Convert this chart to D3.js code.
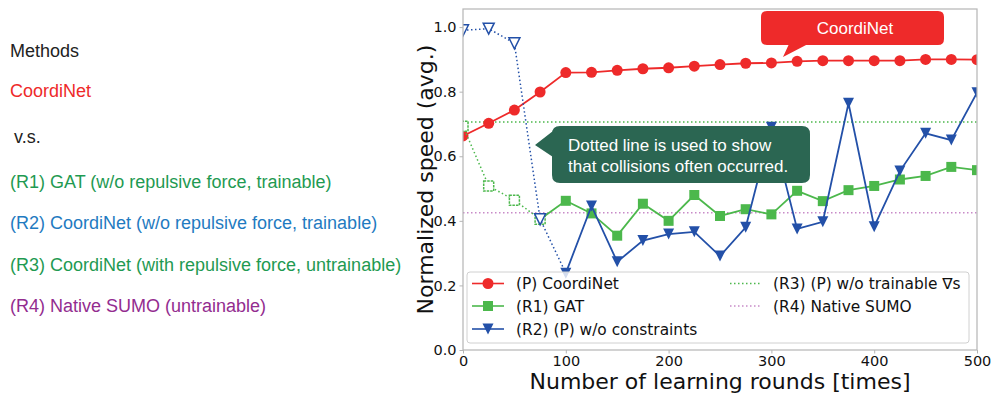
<!DOCTYPE html>
<html><head><meta charset="utf-8">
<script src="https://cdn.jsdelivr.net/npm/d3@7/dist/d3.min.js"></script>
<style>body{margin:0;background:#fff}svg{display:block}</style>
</head><body>
<svg id="c" width="993" height="394"></svg>
<script>
// ---- data ----
const rounds = [0,25,50,75,100,125,150,175,200,225,250,275,300,325,350,375,400,425,450,475,500];
const coordinet = [0.663,0.702,0.743,0.799,0.859,0.860,0.866,0.871,0.874,0.879,0.884,0.888,0.889,0.894,0.896,0.896,0.896,0.896,0.900,0.900,0.899];
const gat = [0.693,0.508,0.464,0.405,0.462,0.423,0.354,0.453,0.400,0.480,0.415,0.436,0.420,0.493,0.461,0.495,0.508,0.528,0.539,0.567,0.557];
const noConstraints = [0.990,0.995,0.950,0.405,0.238,0.446,0.273,0.339,0.359,0.366,0.291,0.380,0.690,0.375,0.397,0.764,0.382,0.554,0.671,0.650,0.797];
const gatCollisionLastIndex = 3;        // dotted (collisions) up to round 75
const noConstraintsCollisionLastIndex = 4; // dotted up to round 100
const r3Value = 0.706;
const r4Value = 0.425;
const yTicks = [0.0,0.2,0.4,0.6,0.8,1.0];
const xTicks = [0,100,200,300,400,500];
const legendLabels = ["(P) CoordiNet","(R1) GAT","(R2) (P) w/o constraints","(R3) (P) w/o trainable ∇s","(R4) Native SUMO"];
const methodLines = ["Methods","CoordiNet","v.s.","(R1) GAT (w/o repulsive force, trainable)","(R2) CoordiNet (w/o repulsive force, trainable)","(R3) CoordiNet (with repulsive force, untrainable)","(R4) Native SUMO (untrainable)"];
const xLabel = "Number of learning rounds [times]";
const yLabel = "Normalized speed (avg.)";
const calloutRed = "CoordiNet";
const calloutGreen = ["Dotted line is used to show","that collisions often occurred."];

// ---- styles ----
const RED="#ee2a2a", GREEN="#4cb84c", BLUE="#2350a8", PURPLE="#c88ac8";
const DOT="1.5,2.5";
const svg = d3.select("#c");
const L=463,R=977,T=9,B=350;
const x = d3.scaleLinear().domain([0,500]).range([L,R]);
const y = d3.scaleLinear().domain([0,1.056]).range([B,T]);

// left method list
const mColors = ["#222",RED,"#222","#1f9a52","#1f7bc1","#1f9a52","#932c8f"];
const mY = [57,97,143,188,229,271,312];
const mX = [10,10,14,10,10,10,10];
svg.append("g").selectAll("text").data(methodLines).join("text")
  .attr("x",(d,i)=>mX[i]).attr("y",(d,i)=>mY[i])
  .attr("font-family","Liberation Sans, Arial, sans-serif").attr("font-size",18)
  .attr("fill",(d,i)=>mColors[i]).text(d=>d);

svg.append("defs").append("clipPath").attr("id","clip")
  .append("rect").attr("x",L).attr("y",T).attr("width",R-L).attr("height",B-T);

const plot = svg.append("g").attr("clip-path","url(#clip)");
const pts = arr => arr.map((v,i)=>[rounds[i],v]);
const line = d3.line().x(d=>x(d[0])).y(d=>y(d[1]));

// R3, R4 horizontal
plot.append("path").attr("d",line([[0,r3Value],[500,r3Value]])).attr("stroke",GREEN).attr("stroke-width",1.5).attr("stroke-dasharray",DOT).attr("fill","none");
plot.append("path").attr("d",line([[0,r4Value],[500,r4Value]])).attr("stroke",PURPLE).attr("stroke-width",1.5).attr("stroke-dasharray",DOT).attr("fill","none");

// CoordiNet
plot.append("path").attr("d",line(pts(coordinet))).attr("stroke",RED).attr("stroke-width",1.8).attr("fill","none");
plot.append("g").selectAll("circle").data(pts(coordinet)).join("circle")
  .attr("cx",d=>x(d[0])).attr("cy",d=>y(d[1])).attr("r",5.5).attr("fill",RED);

// GAT
const g = pts(gat);
plot.append("path").attr("d",line(g.slice(0,gatCollisionLastIndex+1))).attr("stroke",GREEN).attr("stroke-width",1.5).attr("stroke-dasharray",DOT).attr("fill","none");
plot.append("path").attr("d",line(g.slice(gatCollisionLastIndex))).attr("stroke",GREEN).attr("stroke-width",1.8).attr("fill","none");
const sq=5;
plot.append("g").selectAll("rect").data(g).join("rect")
  .attr("x",d=>x(d[0])-sq).attr("y",d=>y(d[1])-sq).attr("width",2*sq).attr("height",2*sq)
  .attr("fill",(d,i)=>i<=gatCollisionLastIndex?"#fff":GREEN)
  .attr("stroke",GREEN).attr("stroke-width",(d,i)=>i<=gatCollisionLastIndex?1.5:0)
  .attr("stroke-dasharray",(d,i)=>i<=gatCollisionLastIndex?"2.5,1":null);

// No constraints
const b = pts(noConstraints);
plot.append("path").attr("d",line(b.slice(0,noConstraintsCollisionLastIndex+1))).attr("stroke",BLUE).attr("stroke-width",1.5).attr("stroke-dasharray",DOT).attr("fill","none");
plot.append("path").attr("d",line(b.slice(noConstraintsCollisionLastIndex))).attr("stroke",BLUE).attr("stroke-width",1.8).attr("fill","none");
const tri = (cx,cy,s)=>`M${cx-s},${cy-s}L${cx+s},${cy-s}L${cx},${cy+s}Z`;
plot.append("g").selectAll("path").data(b).join("path")
  .attr("d",d=>tri(x(d[0]),y(d[1]),5.5))
  .attr("fill",(d,i)=>i<noConstraintsCollisionLastIndex?"#fff":BLUE)
  .attr("stroke",BLUE).attr("stroke-width",(d,i)=>i<noConstraintsCollisionLastIndex?1.5:0)
  .attr("stroke-linejoin","miter");

// frame
svg.append("rect").attr("x",L).attr("y",T).attr("width",R-L).attr("height",B-T)
  .attr("fill","none").attr("stroke","#b5b5b5").attr("stroke-width",1.2);

// axes
const ax = svg.append("g").attr("transform",`translate(0,${B})`)
  .call(d3.axisBottom(x).tickValues(xTicks).tickSize(3.5).tickPadding(2).tickFormat(d3.format("d")));
const ay = svg.append("g").attr("transform",`translate(${L},0)`)
  .call(d3.axisLeft(y).tickValues(yTicks).tickSize(3.5).tickPadding(3).tickFormat(d3.format(".1f")));
[ax,ay].forEach(a=>{
  a.select(".domain").remove();
  a.selectAll("line").attr("stroke","#b5b5b5");
  a.selectAll("text").attr("font-family","DejaVu Sans").attr("font-size",14.5).attr("fill","#111");
});

svg.append("text").attr("x",(L+R)/2).attr("y",389).attr("text-anchor","middle")
  .attr("font-family","DejaVu Sans").attr("font-size",22).attr("fill","#111").text(xLabel);
svg.append("text").attr("transform",`translate(433,${(T+B)/2}) rotate(-90)`).attr("text-anchor","middle")
  .attr("font-family","DejaVu Sans").attr("font-size",22).attr("fill","#111").text(yLabel);

// legend
const lg = svg.append("g");
lg.append("rect").attr("x",467).attr("y",272).attr("width",502).attr("height",71).attr("rx",3)
  .attr("fill","#fff").attr("fill-opacity",0.8).attr("stroke","#d0d0d0").attr("stroke-width",1);
const legendItems = [
  {c:RED,m:"circle",dash:null,col:0,row:0},
  {c:GREEN,m:"square",dash:null,col:0,row:1},
  {c:BLUE,m:"tri",dash:null,col:0,row:2},
  {c:GREEN,m:null,dash:DOT,col:1,row:0},
  {c:PURPLE,m:null,dash:DOT,col:1,row:1}
];
const colX=[472,730], rowY=[283.5,306,329];
legendItems.forEach((it,i)=>{
  const x0=colX[it.col], yy=rowY[it.row];
  lg.append("line").attr("x1",x0).attr("x2",x0+32).attr("y1",yy).attr("y2",yy)
    .attr("stroke",it.c).attr("stroke-width",1.6).attr("stroke-dasharray",it.dash);
  const cx=x0+16;
  if(it.m==="circle") lg.append("circle").attr("cx",cx).attr("cy",yy).attr("r",5.5).attr("fill",it.c);
  if(it.m==="square") lg.append("rect").attr("x",cx-5).attr("y",yy-5).attr("width",10).attr("height",10).attr("fill",it.c);
  if(it.m==="tri") lg.append("path").attr("d",tri(cx,yy,5.5)).attr("fill",it.c);
  lg.append("text").attr("x",x0+(it.col===0?44:43)).attr("y",yy+5.5)
    .attr("font-family","DejaVu Sans").attr("font-size",15.4).attr("fill","#111").text(legendLabels[i]);
});

// callouts
const rr = (x0,y0,w,h,r)=>`M${x0+r},${y0}H${x0+w-r}Q${x0+w},${y0} ${x0+w},${y0+r}V${y0+h-r}Q${x0+w},${y0+h} ${x0+w-r},${y0+h}H${x0+r}Q${x0},${y0+h} ${x0},${y0+h-r}V${y0+r}Q${x0},${y0} ${x0+r},${y0}Z`;
svg.append("path").attr("d",rr(761,11,183,34,6)+"M789,44L808,44L783,57Z").attr("fill",RED);
svg.append("text").attr("x",855).attr("y",34).attr("text-anchor","middle")
  .attr("font-family","Liberation Sans, Arial, sans-serif").attr("font-size",17).attr("fill","#fff").text(calloutRed);
const GC="#2b6652";
svg.append("path").attr("d",rr(552,126,258,57,8)+"M553,131L553,157L535,145Z").attr("fill",GC);
svg.append("text").selectAll("tspan").data(calloutGreen).join("tspan")
  .attr("x",568).attr("y",(d,i)=>151+i*21)
  .attr("font-family","Liberation Sans, Arial, sans-serif").attr("font-size",17).attr("fill","#fff").text(d=>d);
</script>
</body></html>
